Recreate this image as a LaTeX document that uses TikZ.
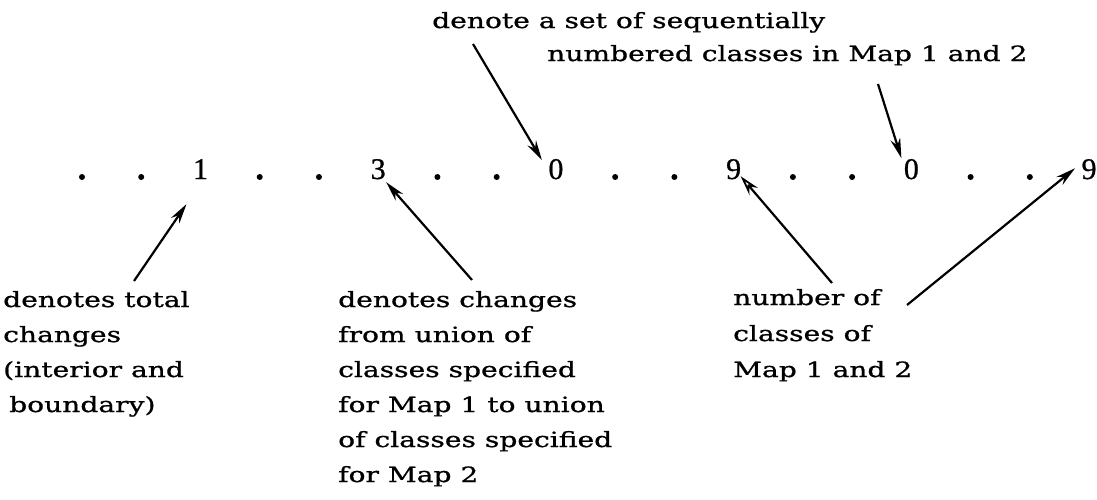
\documentclass[tikz,border=0pt]{standalone}
\usepackage{fontspec}
\setmainfont[FakeStretch=1.34,FakeBold=0.9]{DejaVu Serif}
\newfontfamily\digitfont[FakeBold=0.8]{Liberation Serif}
\usetikzlibrary{arrows.meta,calc}

\begin{document}
\begin{tikzpicture}[x=1pt,y=-1pt,
  lbl/.style={anchor=base west,inner sep=0pt,font=\fontsize{21}{35}\selectfont},
  digit/.style={anchor=base,inner sep=0pt,font=\digitfont\fontsize{30}{30}\selectfont},
  dotmark/.style={circle,fill=black,inner sep=0pt,minimum size=6pt},
  arr/.style={line width=2.2pt,-{Stealth[length=20pt,width=10pt]}},
  arropen/.style={line width=2.2pt,-{Stealth[open,length=20pt,width=11pt,line width=1.8pt]}}]
\useasboundingbox (0,0) rectangle (1097,499);

% upper caption
\node[lbl] (top1) at (432,28) {denote a set of sequentially};
\node[lbl] (top2) at (547,61) {numbered classes in Map 1 and 2};

% the row of dots and class digits
\foreach \i in {0,1,3,4,6,7,9,10,12,13,15,16}
  \node[dotmark] (p\i) at (82+59.24*\i,177) {};
\foreach \i/\d in {2/1,5/3,8/0,11/9,14/0,17/9}
  \node[digit] (p\i) at (82+59.24*\i,179) {\d};

% lower captions
\node[lbl] (a1) at (3,307) {denotes total};
\node[lbl] (a2) at (3,342) {changes};
\node[lbl] (a3) at (3,377) {(interior and};
\node[lbl] (a4) at (9,412) {boundary)};

\node[lbl] (b1) at (338,307) {denotes changes};
\node[lbl] (b2) at (338,342) {from union of};
\node[lbl] (b3) at (338,377) {classes specified};
\node[lbl] (b4) at (338,412) {for Map 1 to union};
\node[lbl] (b5) at (338,447) {of classes specified};
\node[lbl] (b6) at (338,482) {for Map 2};

\node[lbl] (c1) at (733,305) {number of};
\node[lbl] (c2) at (733,341) {classes of};
\node[lbl] (c3) at (733,377) {Map 1 and 2};

% arrow tails
\coordinate (tA) at (473,44);
\coordinate (tB) at (878,84);
\coordinate (tC) at (134,281);
\coordinate (tD) at (472,280);
\coordinate (tE) at (832,283);
\coordinate (tF) at (907,305);

% arrows
\draw[arr] (tA) -- ($(p8.center)+(-14,-9)$);
\draw[arr] (tB) -- ($(p14.center)+(-10,-11)$);
\draw[arr] (tC) -- ($(p2.center)+(-14,35)$);
\draw[arr] (tD) -- ($(p5.center)+(8,13)$);
\draw[arropen] (tE) -- ($(p11.center)+(7,7)$);
\draw[arr] (tF) -- ($(p17.center)+(-14,-1)$);
\end{tikzpicture}
\end{document}
